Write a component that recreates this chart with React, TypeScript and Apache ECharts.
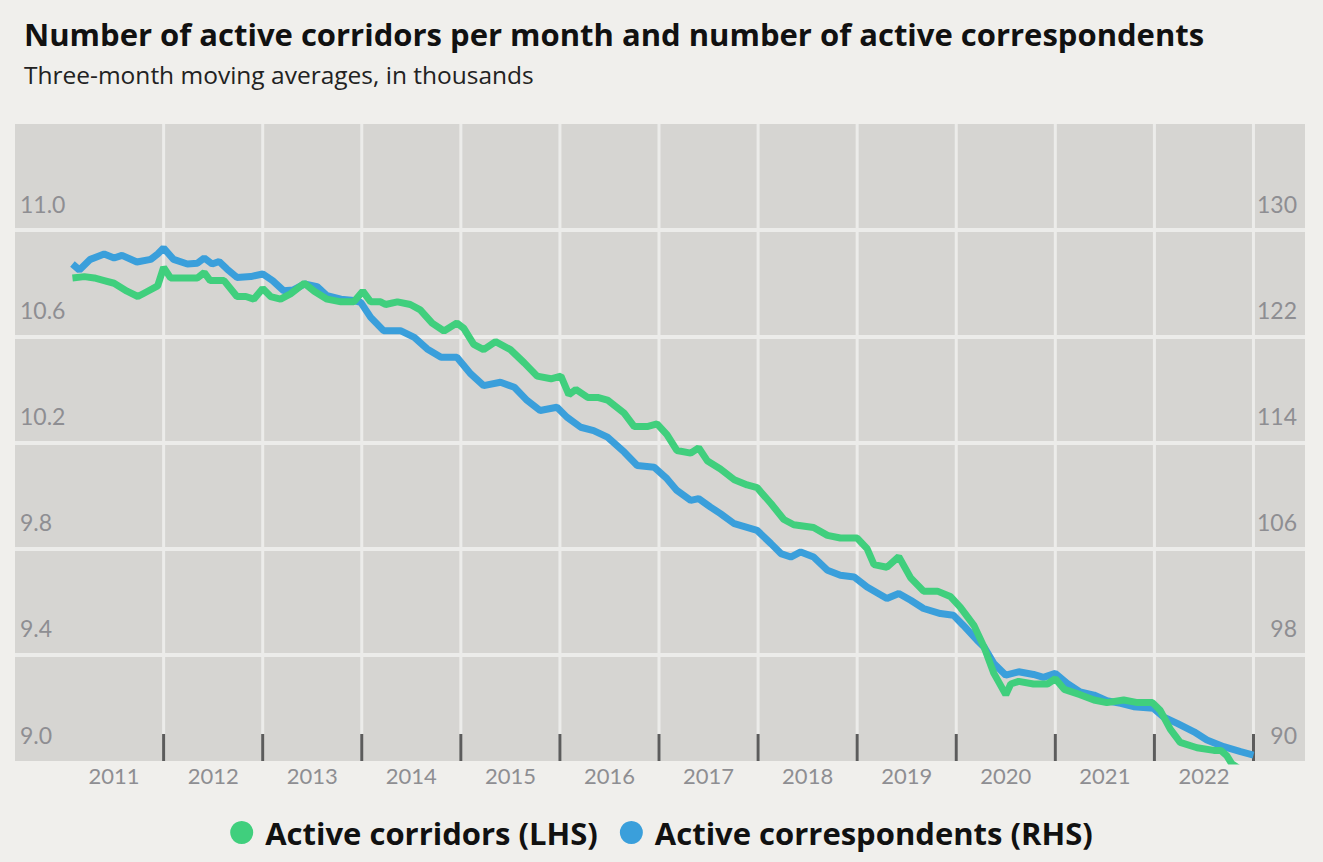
import React, { useEffect, useRef } from 'react';
import * as echarts from 'echarts';

// Year labels (centred in each year) and year boundaries (vertical grid lines + ticks)
const yearLabels = [2011, 2012, 2013, 2014, 2015, 2016, 2017, 2018, 2019, 2020, 2021, 2022];
const yearBoundaries = [2012, 2013, 2014, 2015, 2016, 2017, 2018, 2019, 2020, 2021, 2022, 2023];

// Active corridors (LHS, thousands): [decimal year, value]
const corridors: [number, number][] = [
  [2011.08, 10.82], [2011.2, 10.825], [2011.3, 10.82], [2011.4, 10.81], [2011.5, 10.8],
  [2011.63, 10.77], [2011.74, 10.75], [2011.84, 10.77], [2011.94, 10.79], [2012.0, 10.86],
  [2012.07, 10.82], [2012.2, 10.82], [2012.34, 10.82], [2012.41, 10.84], [2012.47, 10.81],
  [2012.61, 10.81], [2012.74, 10.75], [2012.83, 10.75], [2012.91, 10.74], [2013.0, 10.78],
  [2013.08, 10.75], [2013.18, 10.74], [2013.28, 10.76], [2013.42, 10.8], [2013.52, 10.77],
  [2013.65, 10.74], [2013.79, 10.73], [2013.92, 10.73], [2014.01, 10.77], [2014.09, 10.73],
  [2014.19, 10.73], [2014.24, 10.72], [2014.36, 10.73], [2014.49, 10.72], [2014.59, 10.7],
  [2014.71, 10.65], [2014.83, 10.62], [2014.96, 10.65], [2015.03, 10.63], [2015.13, 10.57],
  [2015.23, 10.55], [2015.35, 10.58], [2015.5, 10.55], [2015.64, 10.5], [2015.77, 10.45],
  [2015.91, 10.44], [2016.01, 10.45], [2016.09, 10.38], [2016.16, 10.4], [2016.28, 10.37],
  [2016.38, 10.37], [2016.48, 10.36], [2016.65, 10.31], [2016.75, 10.26], [2016.88, 10.26],
  [2016.98, 10.27], [2017.08, 10.23], [2017.18, 10.17], [2017.32, 10.16], [2017.4, 10.18],
  [2017.49, 10.13], [2017.62, 10.1], [2017.76, 10.06], [2017.89, 10.04], [2017.99, 10.03],
  [2018.13, 9.97], [2018.26, 9.91], [2018.36, 9.89], [2018.56, 9.88], [2018.7, 9.85],
  [2018.83, 9.84], [2019.0, 9.84], [2019.1, 9.8], [2019.17, 9.74], [2019.3, 9.73],
  [2019.42, 9.77], [2019.54, 9.69], [2019.67, 9.64], [2019.81, 9.64], [2019.94, 9.62],
  [2020.04, 9.58], [2020.18, 9.51], [2020.28, 9.43], [2020.38, 9.33], [2020.5, 9.25],
  [2020.55, 9.29], [2020.63, 9.3], [2020.78, 9.29], [2020.92, 9.29], [2021.0, 9.31],
  [2021.09, 9.27], [2021.25, 9.25], [2021.39, 9.23], [2021.52, 9.22], [2021.69, 9.23],
  [2021.83, 9.22], [2021.98, 9.22], [2022.06, 9.19], [2022.16, 9.12], [2022.26, 9.07],
  [2022.43, 9.05], [2022.6, 9.04], [2022.67, 9.04], [2022.73, 9.02], [2022.78, 8.99],
  [2022.9, 8.96], [2022.98, 8.94],
];

// Active correspondents (RHS, thousands): [decimal year, value]
const correspondents: [number, number][] = [
  [2011.08, 127.45], [2011.15, 127.0], [2011.26, 127.8], [2011.4, 128.2], [2011.5, 127.9],
  [2011.58, 128.1], [2011.73, 127.6], [2011.87, 127.8], [2011.94, 128.2], [2012.0, 128.65],
  [2012.1, 127.8], [2012.24, 127.45], [2012.34, 127.5], [2012.41, 127.9], [2012.49, 127.45],
  [2012.56, 127.64], [2012.64, 127.07], [2012.74, 126.44], [2012.88, 126.5], [2013.0, 126.7],
  [2013.1, 126.2], [2013.21, 125.44], [2013.31, 125.5], [2013.42, 125.94], [2013.55, 125.74],
  [2013.65, 125.06], [2013.79, 124.8], [2013.92, 124.7], [2013.99, 124.56], [2014.09, 123.43],
  [2014.22, 122.43], [2014.39, 122.43], [2014.53, 121.92], [2014.66, 121.05], [2014.8, 120.42],
  [2014.96, 120.42], [2015.1, 119.17], [2015.23, 118.29], [2015.4, 118.54], [2015.54, 118.16],
  [2015.67, 117.16], [2015.8, 116.41], [2015.97, 116.66], [2016.07, 115.91], [2016.21, 115.15],
  [2016.34, 114.9], [2016.48, 114.4], [2016.65, 113.27], [2016.78, 112.27], [2016.95, 112.14],
  [2017.08, 111.27], [2017.18, 110.39], [2017.32, 109.64], [2017.4, 109.77], [2017.52, 109.13],
  [2017.62, 108.64], [2017.76, 107.88], [2017.99, 107.38], [2018.13, 106.38], [2018.23, 105.63],
  [2018.33, 105.37], [2018.43, 105.75], [2018.56, 105.37], [2018.7, 104.37], [2018.83, 104.0],
  [2018.97, 103.87], [2019.1, 103.11], [2019.3, 102.24], [2019.42, 102.62], [2019.54, 102.11],
  [2019.67, 101.49], [2019.84, 101.11], [2019.97, 100.99], [2020.07, 100.23], [2020.21, 99.1],
  [2020.28, 98.6], [2020.38, 97.35], [2020.5, 96.47], [2020.63, 96.72], [2020.78, 96.52],
  [2020.88, 96.3], [2021.0, 96.6], [2021.12, 95.85], [2021.25, 95.21], [2021.39, 94.97],
  [2021.52, 94.54], [2021.66, 94.34], [2021.79, 94.09], [2021.99, 93.97], [2022.09, 93.33],
  [2022.23, 92.84], [2022.4, 92.2], [2022.53, 91.58], [2022.7, 91.08], [2022.87, 90.7],
  [2023.0, 90.45],
];

const GREEN = '#40cf7d';
const BLUE = '#3a9fdb';
const LABEL_GREY = '#8e8e92';
const FONT = 'Lato, "Noto Sans", sans-serif';
const HEAD_FONT = '"Open Sans", "Noto Sans", sans-serif';

// The x axis is in "decimal year - 0.5" so that the year labels sit in the middle of each year.
const shift = (t: number) => t - 0.5;

export default function App() {
  const ref = useRef<HTMLDivElement>(null);

  useEffect(() => {
    document.body.style.margin = '0';
    document.body.style.background = '#f0efec';
    const chart = echarts.init(ref.current!, null, { renderer: 'svg' });

    chart.setOption({
      animation: false,
      backgroundColor: '#f0efec',
      textStyle: { fontFamily: FONT },
      title: {
        text: 'Number of active corridors per month and number of active correspondents',
        subtext: 'Three-month moving averages, in thousands',
        left: 19,
        top: 13,
        itemGap: 13,
        textStyle: { fontSize: 31, fontWeight: 'bold', color: '#111111', fontFamily: HEAD_FONT },
        subtextStyle: { fontSize: 24.5, color: '#222222', fontFamily: HEAD_FONT },
      },
      legend: {
        data: ['Active corridors (LHS)', 'Active correspondents (RHS)'],
        left: 'center',
        top: 812,
        icon: 'circle',
        itemWidth: 23,
        itemHeight: 23,
        itemGap: 22,
        textStyle: {
          fontSize: 31,
          fontWeight: 'bold',
          color: '#111111',
          fontFamily: HEAD_FONT,
          padding: [0, 0, 0, 7],
        },
      },
      grid: {
        left: 15,
        right: 18,
        top: 124,
        bottom: 101,
        show: true,
        backgroundColor: '#d6d5d2',
        borderWidth: 0,
      },
      xAxis: {
        type: 'value',
        min: 2010,
        max: 2023.02,
        interval: 1,
        axisLine: { show: false },
        axisTick: { show: false },
        splitLine: { show: false },
        axisLabel: {
          showMinLabel: false,
          showMaxLabel: false,
          color: LABEL_GREY,
          fontSize: 22,
          margin: 3,
          fontFamily: FONT,
          formatter: (v: number) => (yearLabels.includes(v) ? String(v) : ''),
        },
      },
      yAxis: [
        {
          type: 'value',
          min: 9.0,
          max: 11.4,
          interval: 0.4,
          position: 'left',
          axisLine: { show: false },
          axisTick: { show: false },
          splitLine: {
            show: true,
            showMinLine: false,
            showMaxLine: false,
            lineStyle: { color: '#ececea', width: 4 },
          },
          axisLabel: {
            inside: true,
            showMaxLabel: false,
            margin: 5,
            verticalAlign: 'bottom',
            padding: [0, 0, 15, 0],
            color: LABEL_GREY,
            fontSize: 23,
            fontFamily: FONT,
            formatter: (v: number) => v.toFixed(1),
          },
        },
        {
          type: 'value',
          min: 90,
          max: 138,
          interval: 8,
          position: 'right',
          axisLine: { show: false },
          axisTick: { show: false },
          splitLine: { show: false },
          axisLabel: {
            inside: true,
            showMaxLabel: false,
            margin: 8,
            verticalAlign: 'bottom',
            padding: [0, 0, 15, 0],
            color: LABEL_GREY,
            fontSize: 23,
            fontFamily: FONT,
            formatter: (v: number) => String(Math.round(v)),
          },
        },
      ],
      series: [
        {
          type: 'custom',
          name: 'yearGrid',
          xAxisIndex: 0,
          yAxisIndex: 0,
          z: 1,
          silent: true,
          clip: false,
          data: yearBoundaries.map((y) => [shift(y), 9]),
          encode: { x: 0, y: 1 },
          renderItem: (params: any, api: any) => {
            const x = api.coord([api.value(0), api.value(1)])[0];
            const cs = params.coordSys;
            const bottom = cs.y + cs.height;
            return {
              type: 'group',
              children: [
                {
                  type: 'line',
                  shape: { x1: x, y1: cs.y, x2: x, y2: bottom },
                  style: { stroke: '#ececea', lineWidth: 3 },
                },
                {
                  type: 'line',
                  shape: { x1: x, y1: bottom - 27, x2: x, y2: bottom },
                  style: { stroke: '#5c5c5c', lineWidth: 3 },
                },
              ],
            };
          },
        },
        {
          type: 'line',
          name: 'Active correspondents (RHS)',
          yAxisIndex: 1,
          z: 3,
          showSymbol: false,
          symbol: 'none',
          color: BLUE,
          lineStyle: { color: BLUE, width: 7 },
          emphasis: { disabled: true },
          data: correspondents.map(([t, v]) => [shift(t), v]),
        },
        {
          type: 'line',
          name: 'Active corridors (LHS)',
          yAxisIndex: 0,
          z: 4,
          showSymbol: false,
          symbol: 'none',
          color: GREEN,
          lineStyle: { color: GREEN, width: 7 },
          emphasis: { disabled: true },
          data: corridors.map(([t, v]) => [shift(t), v]),
        },
      ],
    });

    return () => chart.dispose();
  }, []);

  return <div ref={ref} style={{ width: 1323, height: 862 }} />;
}
